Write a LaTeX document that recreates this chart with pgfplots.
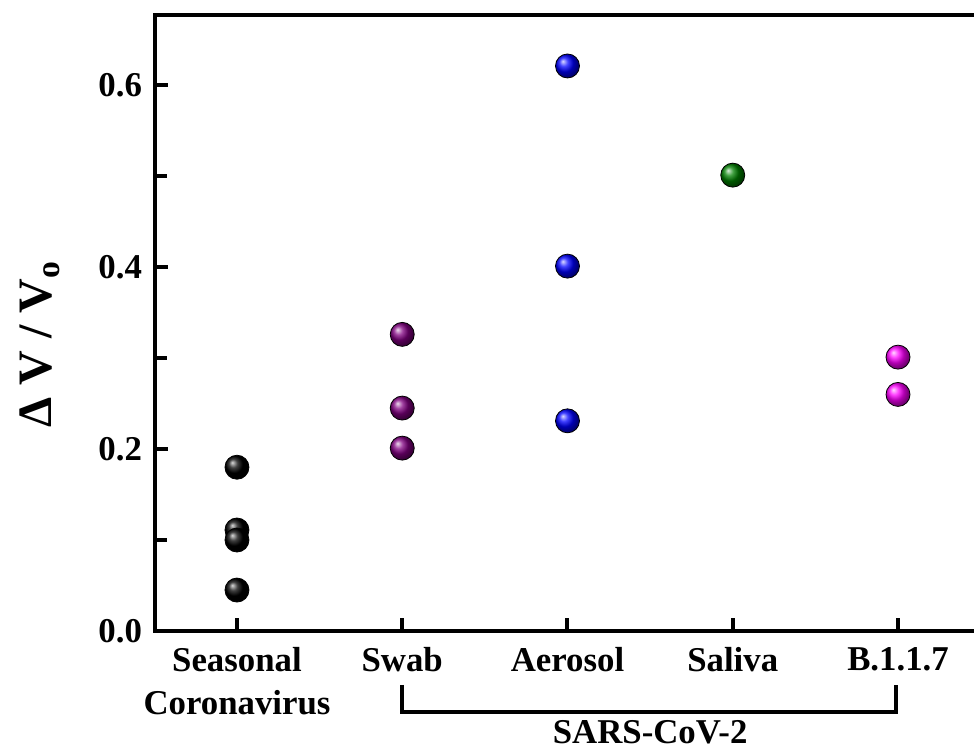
\documentclass[border=0pt]{standalone}
\usepackage{pgfplots}
\pgfplotsset{compat=1.18}
\usepackage{fontspec}
\setmainfont{Liberation Serif}
\begin{document}
\begin{tikzpicture}
\begin{axis}[
  scale only axis, width=412pt, height=308pt,
  xmin=-0.496, xmax=4.49, ymin=0, ymax=0.677,
  clip=false,
  axis line style={line width=2.2pt, line join=miter},
  every tick/.style={line width=2pt, black},
  tick align=inside,
  major tick length=6.5pt, minor tick length=6pt,
  xtick pos=bottom, ytick pos=left,
  xtick={0,1,2,3,4},
  xticklabels={{Seasonal\\Coronavirus},Swab,Aerosol,Saliva,B.1.1.7},
  xticklabel style={align=center, yshift=-4.5pt},
  ytick={0,0.2,0.4,0.6}, minor ytick={0.1,0.3,0.5},
  yticklabel style={xshift=-3pt, /pgf/number format/fixed, /pgf/number format/fixed zerofill, /pgf/number format/precision=1},
  tick label style={font=\bfseries\fontsize{17.4}{21.5}\selectfont},
  /pgf/number format/assume math mode=true,
  ylabel={Δ V / V\textsubscript{o}},
  ylabel style={font=\bfseries\fontsize{24}{28}\selectfont, at={(axis description cs:-0.1396,0.466)}, anchor=center},
]
\addplot[only marks, mark=ball, mark size=6pt, ball color=black] coordinates {(0,0.180) (0,0.111) (0,0.100) (0,0.045)};
\addplot[only marks, mark=ball, mark size=6pt, ball color={rgb,255:red,128;green,0;blue,128}] coordinates {(1,0.326) (1,0.245) (1,0.201)};
\addplot[only marks, mark=ball, mark size=6pt, ball color=blue] coordinates {(2,0.621) (2,0.401) (2,0.231)};
\addplot[only marks, mark=ball, mark size=6pt, ball color={rgb,255:red,0;green,128;blue,0}] coordinates {(3,0.501)};
\addplot[only marks, mark=ball, mark size=6pt, ball color=magenta] coordinates {(4,0.301) (4,0.260)};
\draw[line width=1.8pt, line join=miter] (axis cs:1,-0.0593) -- (axis cs:1,-0.089) -- (axis cs:3.988,-0.089) -- (axis cs:3.988,-0.0593);
\node[anchor=base, font=\bfseries\fontsize{17.4}{21.5}\selectfont, inner sep=0pt] at (axis cs:2.5,-0.1235) {SARS-CoV-2};
\coordinate (bl) at (rel axis cs:0,0);
\end{axis}
\pgfresetboundingbox
\path ([shift={(-77.5pt,-59pt)}]bl) rectangle ++(487pt,374.5pt);
\end{tikzpicture}
\end{document}
